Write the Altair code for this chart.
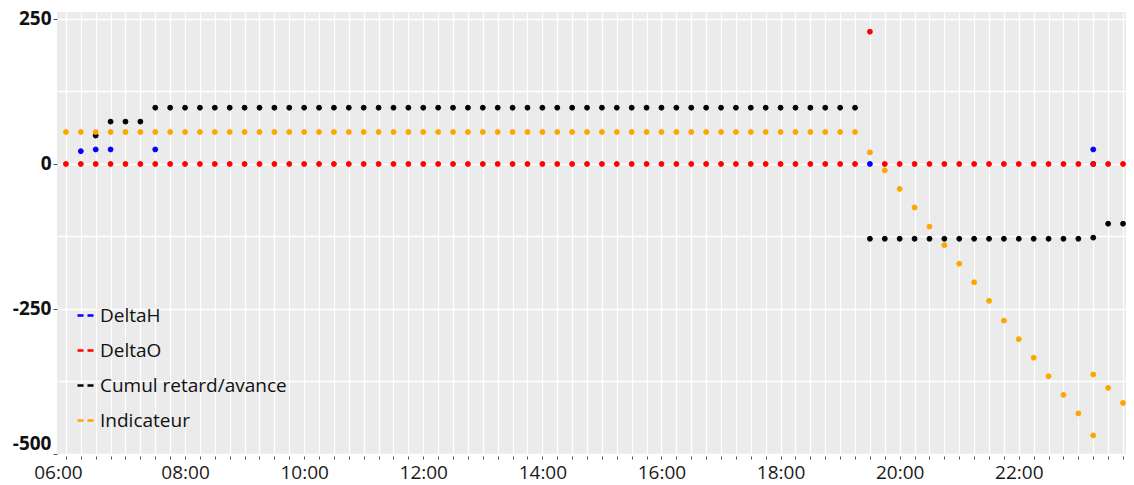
import altair as alt
import pandas as pd

# 15-minute time grid (06:00 -> 23:45)
times = [
    "06:00", "06:15", "06:30", "06:45", "07:00", "07:15", "07:30", "07:45",
    "08:00", "08:15", "08:30", "08:45", "09:00", "09:15", "09:30", "09:45",
    "10:00", "10:15", "10:30", "10:45", "11:00", "11:15", "11:30", "11:45",
    "12:00", "12:15", "12:30", "12:45", "13:00", "13:15", "13:30", "13:45",
    "14:00", "14:15", "14:30", "14:45", "15:00", "15:15", "15:30", "15:45",
    "16:00", "16:15", "16:30", "16:45", "17:00", "17:15", "17:30", "17:45",
    "18:00", "18:15", "18:30", "18:45", "19:00", "19:15", "19:30", "19:45",
    "20:00", "20:15", "20:30", "20:45", "21:00", "21:15", "21:30", "21:45",
    "22:00", "22:15", "22:30", "22:45", "23:00", "23:15", "23:30", "23:45",
]

series_names = ["DeltaH", "DeltaO", "Cumul retard/avance", "Indicateur"]
series_colors = ["#0000FF", "#FF0000", "#000000", "#FFA500"]

# DeltaH (blue)
deltaH_times = ["06:15", "06:30", "06:45", "07:30", "19:30", "23:15", "23:15"]
deltaH_vals = [22, 25, 25, 25, 0, 25, 0]

# DeltaO (red)
deltaO_times = times
deltaO_vals = [0] * 54 + [228] + [0] * 17

# Cumul retard/avance (black)
cumul_times = times[2:69] + ["23:15"] + times[70:]
cumul_vals = ([49] + [73] * 3 + [97] * 48 + [-129] * 15 + [-127] + [-103]
              + [-103, -103])

# Indicateur (orange)
indic_times = times + ["23:15"]
indic_vals = ([55] * 54
              + [20, -11, -43, -75, -108, -140, -172, -204, -236, -270,
                 -302, -334, -366, -398, -430, -468, -386, -412]
              + [-363])


def to_min(hhmm):
    h, m = hhmm.split(":")
    return int(h) * 60 + int(m)


rows = []
for name, ts, vs in [
    ("DeltaH", deltaH_times, deltaH_vals),
    ("DeltaO", deltaO_times, deltaO_vals),
    ("Cumul retard/avance", cumul_times, cumul_vals),
    ("Indicateur", indic_times, indic_vals),
]:
    for t, v in zip(ts, vs):
        rows.append({"serie": name, "t": to_min(t), "heure": t, "v": v})
df = pd.DataFrame(rows)

tick_values = [to_min(t) for t in times]

FONT = "Open Sans"

x = alt.X(
    "t:Q",
    title=None,
    scale=alt.Scale(domain=[351, 1428], nice=False, zero=False),
    axis=alt.Axis(
        values=tick_values,
        labelExpr="datum.value % 120 == 0 ? (datum.value < 600 ? '0' : '') + floor(datum.value / 60) + ':00' : ''",
        labelOverlap=False,
        labelFlush=False,
        labelFontSize=19,
        labelFont=FONT,
        labelColor="#1a1a1a",
        labelPadding=4,
        labelOffset={"condition": {"test": "datum.value == 360", "value": -8}, "value": 0},
        tickSize=3,
        tickColor="#555555",
        offset=2,
        domain=False,
        grid=True,
        gridColor="#FFFFFF",
        gridWidth=1.2,
        gridOpacity=1,
    ),
)

y = alt.Y(
    "v:Q",
    title=None,
    scale=alt.Scale(domain=[-500, 262], nice=False, zero=False),
    axis=alt.Axis(
        values=[-500, -375, -250, -125, 0, 125, 250],
        labelExpr="datum.value % 250 == 0 ? toString(datum.value) : ''",
        tickOpacity={"condition": {"test": "datum.value % 250 == 0", "value": 1}, "value": 0},
        labelOffset={"condition": {"test": "datum.value == -500", "value": -11}, "value": 0},
        labelFontWeight="bold",
        labelFontSize=19,
        labelFont=FONT,
        labelColor="#111111",
        labelPadding=2,
        tickSize=4,
        tickColor="#555555",
        domain=False,
        grid=True,
        gridColor="#FFFFFF",
        gridWidth=1.5,
        gridOpacity=1,
    ),
)

legend = alt.Legend(
    title=None,
    orient="none",
    legendX=19,
    legendY=294,
    symbolType="stroke",
    symbolSize=256,
    symbolStrokeWidth=2.5,
    symbolDash=[6, 4],
    labelFontSize=19,
    labelFont=FONT,
    labelColor="#111111",
    labelLimit=400,
    labelOffset=5,
    rowPadding=15,
    padding=0,
)

color = alt.Color(
    "serie:N",
    scale=alt.Scale(domain=series_names, range=series_colors),
    sort=series_names,
    legend=legend,
)
stroke = alt.Stroke(
    "serie:N",
    scale=alt.Scale(domain=series_names, range=series_colors),
    sort=series_names,
    legend=legend,
)

chart = (
    alt.Chart(df)
    .mark_circle(size=24, opacity=1, strokeWidth=1)
    .encode(x=x, y=y, color=color, stroke=stroke)
    .properties(
        width=1069,
        height=442,
        autosize=alt.AutoSizeParams(type="none"),
        padding={"left": 49, "top": 4, "right": 0, "bottom": 31},
        background="#FFFFFF",
    )
    .configure_view(fill="#EBEBEB", strokeWidth=0)
)

chart.save("out.html", embed_options={"renderer": "svg", "actions": False})
